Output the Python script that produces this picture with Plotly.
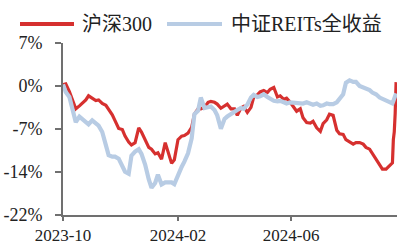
import pandas as pd
import plotly.graph_objects as go

# sample dates: regular grid up to 2024-09-20, then the last trading days
grid_dates = pd.date_range("2023-09-28", "2024-09-20", periods=100).strftime("%Y-%m-%d").tolist()
tail_dates = ["2024-09-23", "2024-09-24", "2024-09-25", "2024-09-26", "2024-09-27"]
dates = grid_dates + tail_dates

hs300 = [
    0.0, 0.1, -1.2, -2.3, -4.1, -3.6, -3.2, -2.6, -1.9, -2.3,
    -2.7, -2.6, -3.2, -3.5, -4.2, -5.1, -6.1, -7.4, -7.6, -8.7,
    -9.7, -10.2, -9.8, -7.3, -8.0, -9.4, -10.6, -10.9, -11.7, -11.5,
    -12.6, -9.8, -11.3, -13.3, -12.7, -9.3, -8.7, -8.6, -8.2, -7.2,
    -5.0, -4.1, -4.1, -3.85, -3.0, -2.85, -3.0, -3.3, -4.0, -3.6,
    -3.3, -4.1, -4.1, -5.2, -3.95, -3.7, -4.7, -3.85, -2.1, -1.75,
    -1.25, -1.0, -1.35, -0.8, -0.5, -2.1, -1.9, -2.5, -2.3, -3.0,
    -3.85, -4.5, -4.1, -5.6, -6.4, -6.5, -6.2, -7.3, -7.9, -6.6,
    -5.95, -5.0, -5.2, -7.7, -8.3, -8.4, -9.3, -9.7, -10.05, -9.8,
    -9.8, -10.05, -10.6, -10.9, -11.6, -12.7, -13.7, -14.25, -14.25, -13.7,
    -13.2, -9.3, -8.0, -4.9, 0.4,
]

reits = [
    0.0, -1.25, -2.1, -3.85, -6.35, -5.4, -5.8, -6.35, -6.7, -6.05,
    -6.6, -6.95, -8.0, -10.2, -11.9, -12.15, -12.15, -12.5, -13.7, -14.7,
    -15.05, -12.0, -11.3, -10.9, -11.7, -13.5, -16.0, -17.4, -16.6, -15.2,
    -16.85, -16.5, -16.5, -16.5, -16.8, -15.2, -13.9, -13.0, -11.6, -9.1,
    -5.0, -4.4, -2.2, -3.95, -3.85, -3.7, -4.3, -5.2, -7.45, -5.8,
    -5.4, -4.95, -4.7, -4.3, -3.95, -4.1, -3.4, -2.2, -1.75, -2.1,
    -2.0, -1.65, -2.1, -2.45, -2.75, -2.85, -2.75, -3.0, -3.2, -3.0,
    -3.1, -3.2, -3.3, -3.2, -3.0, -3.3, -3.4, -3.2, -3.6, -3.5,
    -3.2, -3.3, -3.3, -3.0, -2.45, -1.65, 0.3, 0.7, 0.45, 0.45,
    -0.25, -0.5, -0.8, -0.95, -1.35, -1.65, -2.2, -2.45, -2.6, -3.0,
    -3.2, -2.8, -2.2, -1.8, -1.5,
]

series_names = ["沪深300", "中证REITs全收益"]
series_colors = ["#D6302F", "#B8CCE4"]

y_tickvals = [7, -0.25, -7.5, -14.75, -22]
y_ticktext = ["7%", "0%", "-7%", "-14%", "-22%"]
x_tickvals = ["2023-09-28", "2024-02-01", "2024-06-04"]
x_ticktext = ["2023-10", "2024-02", "2024-06"]

FONT = "Liberation Serif, Noto Sans CJK SC, serif"

W, H = 397, 246
ML, MR, MT, MB = 63, 0, 43, 31

fig = go.Figure()
fig.add_trace(go.Scatter(x=dates, y=hs300, mode="lines", name=series_names[0],
                         line=dict(color=series_colors[0], width=3.2), showlegend=False))
fig.add_trace(go.Scatter(x=dates, y=reits, mode="lines", name=series_names[1],
                         line=dict(color=series_colors[1], width=4.2), showlegend=False))

fig.update_layout(
    width=W, height=H,
    margin=dict(l=ML, r=MR, t=MT, b=MB, autoexpand=False),
    paper_bgcolor="white", plot_bgcolor="white",
    font=dict(family=FONT, size=18, color="#222222"),
    xaxis=dict(
        type="date", range=["2023-09-28", "2024-09-28"],
        tickvals=x_tickvals, ticktext=x_ticktext,
        showgrid=False, zeroline=False,
        showline=True, linecolor="#707070", linewidth=2,
        ticks="outside", ticklen=4, tickwidth=2, tickcolor="#707070",
        tickfont=dict(family=FONT, size=17, color="#222222"),
        automargin=False,
    ),
    yaxis=dict(
        range=[-22, 7], tickvals=y_tickvals, ticktext=y_ticktext,
        showgrid=False, zeroline=False,
        showline=True, linecolor="#707070", linewidth=2,
        ticks="outside", ticklen=6, tickwidth=2, tickcolor="#707070",
        ticklabelstandoff=9,
        tickfont=dict(family=FONT, size=18, color="#222222"),
        automargin=False,
    ),
)

# manual legend with long line samples, placed in paper coords
def px(x):
    return (x - ML) / (W - ML - MR)
def py(y):
    return (H - MB - y) / (H - MT - MB)

legend_px = [(20, 74, 80), (167, 222, 229)]
for (a, b, t), name, col in zip(legend_px, series_names, series_colors):
    fig.add_shape(type="line", xref="paper", yref="paper",
                  x0=px(a), x1=px(b), y0=py(24), y1=py(24),
                  line=dict(color=col, width=4))
    fig.add_annotation(xref="paper", yref="paper", x=px(t), y=py(24),
                       xanchor="left", yanchor="middle", showarrow=False,
                       text=name, font=dict(family=FONT, size=20, color="#222222"))

fig.write_html("out.html", config={"displayModeBar": False},
               post_script="document.body.style.margin='0';")
